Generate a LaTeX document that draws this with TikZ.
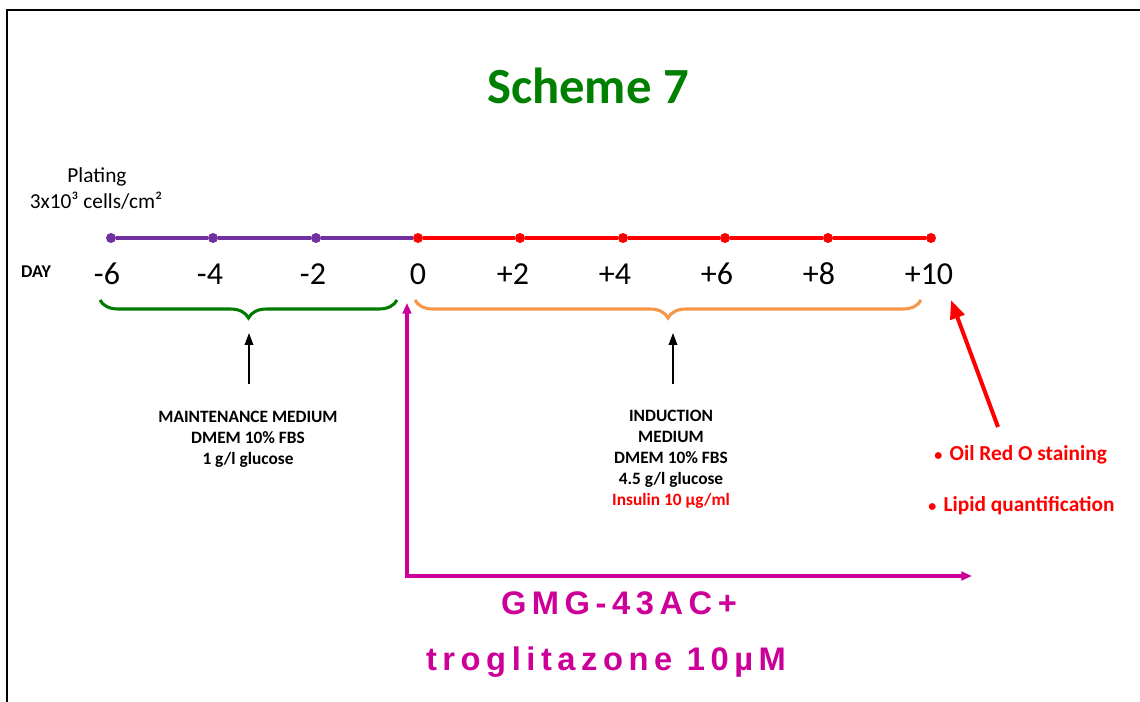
\documentclass[tikz,border=0pt]{standalone}
\usepackage{fontspec}
\setmainfont{Carlito}
\newfontfamily\trackedsans[LetterSpace=17]{Liberation Sans}
\usetikzlibrary{arrows.meta,decorations.pathreplacing}

\definecolor{schemegreen}{RGB}{0,128,0}
\definecolor{bracegreen}{RGB}{0,122,0}
\definecolor{phasepurple}{RGB}{112,48,160}
\definecolor{phasered}{RGB}{255,0,0}
\definecolor{braceorange}{RGB}{247,150,70}
\definecolor{drugmagenta}{RGB}{204,0,153}

\newcommand{\smallbullet}{{\fontsize{12}{12}\selectfont•}\hspace{0.35em}}

\begin{document}
\begin{tikzpicture}[x=0.75pt,y=-0.75pt,
  frame/.style={line width=2.2pt,black},
  titletext/.style={anchor=base,inner sep=0pt,text=schemegreen,font=\bfseries\fontsize{38}{44}\selectfont},
  plain/.style={anchor=base,inner sep=0pt,font=\fontsize{16}{19}\selectfont},
  daylabel/.style={anchor=base,inner sep=0pt,font=\fontsize{24}{28}\selectfont},
  daytag/.style={anchor=base,inner sep=0pt,font=\bfseries\fontsize{13.5}{16}\selectfont},
  tldot/.style={circle,fill=#1,inner sep=0pt,minimum size=7.5pt},
  tlline/.style={line width=2.3pt,draw=#1},
  medium/.style={anchor=north,inner sep=0pt,align=center,font=\bfseries\fontsize{13}{15.75}\selectfont},
  bracket/.style={line width=2.3pt,draw=#1,decorate,decoration={brace,mirror,amplitude=13.5pt}},
  pointer/.style={line width=1.1pt,-{Triangle[length=9pt,width=6.5pt]}},
  readout/.style={anchor=base west,inner sep=0pt,text=phasered,font=\bfseries\fontsize{16}{19}\selectfont},
  drugtext/.style={anchor=base,inner sep=0pt,text=drugmagenta,font=\trackedsans\bfseries\fontsize{24.5}{29}\selectfont},
  drugline/.style={line width=2.3pt,draw=drugmagenta,{Triangle[length=8pt,width=6.5pt]}-{Triangle[length=8pt,width=6.5pt]}},
  endpoint/.style={line width=3pt,draw=phasered,-{Triangle[length=14pt,width=11pt]}}
]
\useasboundingbox (0,0) rectangle (1140,702);

% frame of the figure
\draw[frame] (7,702) -- (7,10) -- (1140,10);

% title
\node[titletext] (title) at (588,104) {Scheme 7};

% plating note
\node[plain] (plating) at (97,183) {Plating};
\node[plain] (density) at (96,209) {3x10³ cells/cm²};

% timeline dots
\node[tldot=phasepurple] (dm6) at (111,238) {};
\node[tldot=phasepurple] (dm4) at (213,238) {};
\node[tldot=phasepurple] (dm2) at (316,238) {};
\node[tldot=phasered] (d0)  at (418,238) {};
\node[tldot=phasered] (dp2) at (520,238) {};
\node[tldot=phasered] (dp4) at (623,238) {};
\node[tldot=phasered] (dp6) at (725,238) {};
\node[tldot=phasered] (dp8) at (828,238) {};
\node[tldot=phasered] (dp10) at (931,238) {};

% timeline segments
\draw[tlline=phasepurple] (dm6) -- (dm4) -- (dm2) -- (d0);
\draw[tlline=phasered] (d0) -- (dp2) -- (dp4) -- (dp6) -- (dp8) -- (dp10);

% day labels
\node[daytag] (day) at (36,278) {DAY};
\node[daylabel] (lm6) at (107,285) {-6};
\node[daylabel] (lm4) at (210,285) {-4};
\node[daylabel] (lm2) at (313,285) {-2};
\node[daylabel] (l0)  at (418,285) {0};
\node[daylabel] (lp2) at (513,285) {+2};
\node[daylabel] (lp4) at (615,285) {+4};
\node[daylabel] (lp6) at (717,285) {+6};
\node[daylabel] (lp8) at (819,285) {+8};
\node[daylabel] (lp10) at (929,285) {+10};

% braces over the two phases
\coordinate (gbl) at (100,300);
\coordinate (gbr) at (397,300);
\coordinate (obl) at (415,300);
\coordinate (obr) at (921,300);
\draw[bracket=bracegreen] (gbl) -- (gbr);
\draw[bracket=braceorange] (obl) -- (obr);

% media descriptions
\node[medium] (maint) at (248,411) {MAINTENANCE MEDIUM\\DMEM 10\% FBS\\1 g/l glucose};
\node[medium] (induct) at (671,410) {INDUCTION\\MEDIUM\\DMEM 10\% FBS\\4.5 g/l glucose\\\textcolor{phasered}{Insulin 10 µg/ml}};

\coordinate (mtail) at (249,384);
\coordinate (mhead) at (249,333);
\coordinate (itail) at (673,384);
\coordinate (ihead) at (673,333);
\draw[pointer] (mtail) -- (mhead);
\draw[pointer] (itail) -- (ihead);

% end-point analyses
\coordinate (rtail) at (998,427);
\coordinate (rhead) at (951,300);
\draw[endpoint] (rtail) -- (rhead);
\node[readout] (oil) at (934,460) {\smallbullet Oil Red O staining};
\node[readout] (lipid) at (928,512) {\smallbullet Lipid quantification};

% treatment window
\coordinate (magup) at (407,303);
\coordinate (magright) at (972,576);
\draw[drugline] (magup) |- (magright);
\node[drugtext] (drug1) at (619,614) {GMG-43AC+};
\node[drugtext] (drug2) at (606,670) {troglitazone 10µM};
\end{tikzpicture}
\end{document}
